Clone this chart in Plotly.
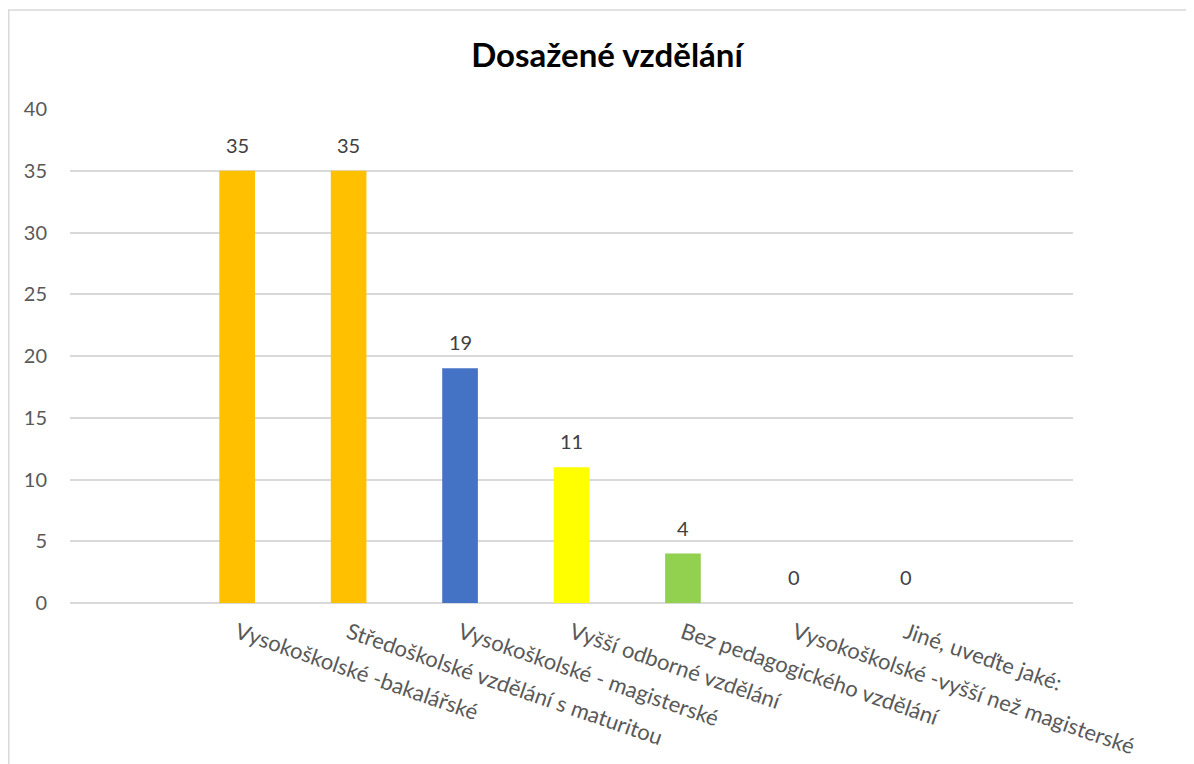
import plotly.graph_objects as go

categories = [
    "Vysokoškolské -bakalářské",
    "Středoškolské vzdělání s maturitou",
    "Vysokoškolské - magisterské",
    "Vyšší odborné vzdělání",
    "Bez pedagogického vzdělání",
    "Vysokoškolské -vyšší než magisterské",
    "Jiné, uveďte jaké:",
]
counts = [35, 35, 19, 11, 4, 0, 0]
bar_colors = ["#FFC000", "#FFC000", "#4472C4", "#FFFF00", "#92D050", "#92D050", "#92D050"]
y_ticks = [0, 5, 10, 15, 20, 25, 30, 35, 40]

FONT = "Lato, Open Sans, sans-serif"

# page body has an 8px margin, so the figure is a bit smaller than the window
W, H = 1186, 756
ml, mr, mt, mb = 62, 121, 101, 161
pw, ph = W - ml - mr, H - mt - mb

fig = go.Figure()
fig.add_trace(go.Bar(
    x=categories,
    y=counts,
    marker=dict(color=bar_colors, line=dict(width=0)),
    width=0.32,
    hoverinfo="x+y",
))

# value labels above bars
for c, v in zip(categories, counts):
    fig.add_annotation(
        x=c, y=v, text=str(v), showarrow=False, yshift=26,
        font=dict(family=FONT, size=20, color="#404040"),
    )

# chart frame (light grey border like the Office chart area)
fig.add_shape(
    type="rect", xref="paper", yref="paper",
    x0=(0.75 - ml) / pw, x1=(W + 30 - ml) / pw,
    y0=-(mb + 30) / ph, y1=(mt - 2) / ph + 1,
    line=dict(color="#D9D9D9", width=1.5), layer="below",
)

fig.update_layout(
    width=W, height=H,
    margin=dict(l=ml, r=mr, t=mt, b=mb, autoexpand=False),
    paper_bgcolor="white", plot_bgcolor="white",
    showlegend=False,
    title=dict(
        text="<b>Dosažené vzdělání</b>",
        x=599 / W, xanchor="center", y=1 - 47 / H, yanchor="middle",
        font=dict(family=FONT, size=33, color="#000000"),
    ),
    xaxis=dict(
        type="category",
        range=[-1.5, 7.5],
        automargin=False,
        showgrid=False, zeroline=False, showline=False,
        ticks="", tickangle=19, ticklabelstandoff=12,
        tickfont=dict(family=FONT, size=22, color="#595959"),
    ),
    yaxis=dict(
        range=[0, 40],
        tickvals=y_ticks,
        automargin=False,
        showgrid=True, gridcolor="#D9D9D9", gridwidth=1.5,
        zeroline=True, zerolinecolor="#D9D9D9", zerolinewidth=1.5,
        showline=False, ticks="", ticklabelstandoff=22,
        tickfont=dict(family=FONT, size=20, color="#595959"),
    ),
)

fig.write_html("out.html")
